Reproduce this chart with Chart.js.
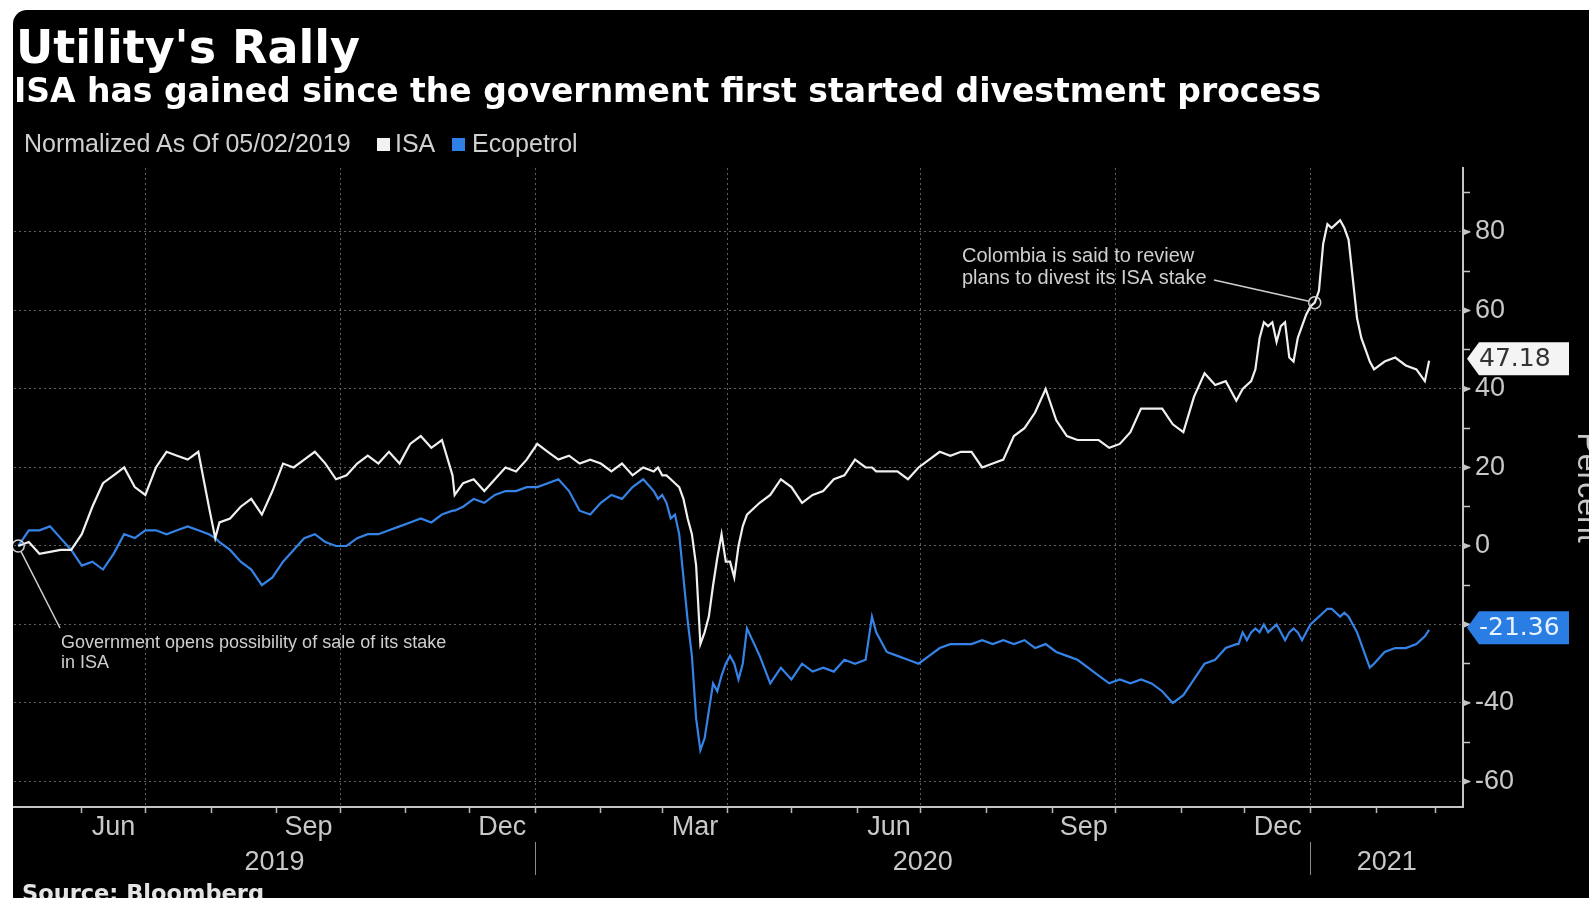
<!DOCTYPE html>
<html>
<head>
<meta charset="utf-8">
<title>Utility's Rally</title>
<script src="https://cdn.jsdelivr.net/npm/chart.js@4.4.1/dist/chart.umd.min.js"></script>
<style>
  html, body { margin:0; padding:0; }
  body { width:1589px; height:898px; overflow:hidden; background:#fff; position:relative; }
  #frame { position:absolute; left:13px; top:10px; width:1576px; height:888px; background:#000; border-top-left-radius:14px; overflow:hidden; }
  #chart { position:absolute; left:0; top:0; }
  .txt { position:absolute; white-space:nowrap; line-height:1.2; margin:0; }
  #title { font:bold 46px 'DejaVu Sans', sans-serif; color:#fff; }
  #subtitle { font:bold 33px 'DejaVu Sans', sans-serif; color:#fff; }
  .leg { font:25px 'Liberation Sans', Arial, sans-serif; color:#d0d0d0; }
  .sw { position:absolute; width:13px; height:13px; }
  #source { font:bold 22.5px 'DejaVu Sans', sans-serif; color:#e4e4e4; }
</style>
</head>
<body>
<div id="frame"><canvas id="chart" width="1576" height="888"></canvas></div>
<div id="title" class="txt">Utility's Rally</div>
<div id="subtitle" class="txt">ISA has gained since the government first started divestment process</div>
<div id="legNote" class="txt leg">Normalized As Of 05/02/2019</div>
<div id="swIsa" class="sw" style="left:377px;top:138px;background:#f2f2f2"></div>
<div id="legIsa" class="txt leg"></div>
<div id="swEco" class="sw" style="left:452px;top:138px;background:#2f80e4"></div>
<div id="legEco" class="txt leg"></div>
<div id="source" class="txt">Source: Bloomberg</div>
<script>
// ---------------- DATA ----------------
const dates = [
'2019-05-02','2019-05-07','2019-05-12','2019-05-17','2019-05-22','2019-05-27',
'2019-06-01','2019-06-06','2019-06-11','2019-06-16','2019-06-21','2019-06-26',
'2019-07-01','2019-07-06','2019-07-11','2019-07-16','2019-07-21','2019-07-26','2019-07-31',
'2019-08-03','2019-08-05','2019-08-10','2019-08-15','2019-08-20','2019-08-25','2019-08-30',
'2019-09-04','2019-09-09','2019-09-14','2019-09-19','2019-09-24','2019-09-29',
'2019-10-04','2019-10-09','2019-10-14','2019-10-19','2019-10-24','2019-10-29',
'2019-11-03','2019-11-08','2019-11-13','2019-11-18','2019-11-23','2019-11-24','2019-11-28',
'2019-12-03','2019-12-08','2019-12-13','2019-12-18','2019-12-23','2019-12-28',
'2020-01-02','2020-01-07','2020-01-12','2020-01-17','2020-01-22','2020-01-27',
'2020-02-01','2020-02-06','2020-02-11','2020-02-16','2020-02-21','2020-02-26','2020-02-28',
'2020-03-01','2020-03-03','2020-03-05','2020-03-07','2020-03-09','2020-03-11','2020-03-13','2020-03-15',
'2020-03-17','2020-03-19','2020-03-21','2020-03-23','2020-03-25','2020-03-27','2020-03-29','2020-03-31',
'2020-04-02','2020-04-04','2020-04-06','2020-04-08','2020-04-10','2020-04-16','2020-04-21','2020-04-26',
'2020-05-01','2020-05-06','2020-05-11','2020-05-16','2020-05-21','2020-05-26','2020-05-31',
'2020-06-05','2020-06-08','2020-06-10','2020-06-15','2020-06-20','2020-06-25','2020-06-30',
'2020-07-05','2020-07-10','2020-07-15','2020-07-20','2020-07-25','2020-07-30',
'2020-08-04','2020-08-09','2020-08-14','2020-08-19','2020-08-24','2020-08-29',
'2020-09-03','2020-09-08','2020-09-13','2020-09-18','2020-09-23','2020-09-28',
'2020-10-03','2020-10-08','2020-10-13','2020-10-18','2020-10-23','2020-10-28',
'2020-11-02','2020-11-07','2020-11-12','2020-11-17','2020-11-22','2020-11-27','2020-11-28','2020-11-30',
'2020-12-02','2020-12-04','2020-12-06','2020-12-08','2020-12-10','2020-12-12','2020-12-14','2020-12-16',
'2020-12-18','2020-12-20','2020-12-22','2020-12-24','2020-12-26','2020-12-28','2020-12-30',
'2021-01-01','2021-01-03','2021-01-05','2021-01-07','2021-01-09','2021-01-11','2021-01-13','2021-01-15',
'2021-01-17','2021-01-19','2021-01-21','2021-01-23','2021-01-25','2021-01-27','2021-01-29','2021-01-31',
'2021-02-05','2021-02-10','2021-02-15','2021-02-20','2021-02-24','2021-02-26'
];
const isaValues = [
0, 1, -2, -1.5, -1, -1,
3, 10, 16, 18, 20, 15,
13, 20, 24, 23, 22, 24, 10,
2, 6, 7, 10, 12, 8, 14,
21, 20, 22, 24, 21, 17,
18, 21, 23, 21, 24, 21,
26, 28, 25, 27, 18, 13, 16,
17, 14, 17, 20, 19, 22,
26, 24, 22, 23, 21, 22,
21, 19, 21, 18, 20, 19, 20,
18, 18, 17, 16, 15, 12, 7, 3,
-5, -25, -22, -18, -10, -3, 3, -4,
-4, -8, 0, 5, 8, 11, 13, 17,
15, 11, 13, 14, 17, 18, 22,
20, 20, 19, 19, 19, 17, 20,
22, 24, 23, 24, 24, 20,
21, 22, 28, 30, 34, 40,
32, 28, 27, 27, 27, 25,
26, 29, 35, 35, 35, 31,
29, 38, 44, 41, 42, 37, 38, 40,
41, 42, 45, 53, 57, 56, 57, 52,
56, 57, 48, 47, 53, 56, 59,
61, 62, 65, 77, 82, 81, 82, 83,
81, 78, 68, 58, 53, 50, 47, 45,
47, 48, 46, 45, 42, 47.18
];
const ecopetrolValues = [
0, 4, 4, 5, 2, -1,
-5, -4, -6, -2, 3, 2,
4, 4, 3, 4, 5, 4, 3,
2, 1, -1, -4, -6, -10, -8,
-4, -1, 2, 3, 1, 0,
0, 2, 3, 3, 4, 5,
6, 7, 6, 8, 9, 9, 10,
12, 11, 13, 14, 14, 15,
15, 16, 17, 14, 9, 8,
11, 13, 12, 15, 17, 14, 12,
13, 11, 7, 8, 3, -8, -19, -28,
-44, -52, -49, -42, -35, -37, -33, -30,
-28, -30, -34, -30, -21, -28, -35, -31,
-34, -30, -32, -31, -32, -29, -30,
-29, -18, -22, -27, -28, -29, -30,
-28, -26, -25, -25, -25, -24,
-25, -24, -25, -24, -26, -25,
-27, -28, -29, -31, -33, -35,
-34, -35, -34, -35, -37, -40,
-38, -34, -30, -29, -26, -25, -25, -22,
-24, -22, -21, -22, -20, -22, -21, -20,
-22, -24, -22, -21, -22, -24, -22,
-20, -19, -18, -17, -16, -16, -17, -18,
-17, -18, -20, -22, -25, -28, -31, -30,
-27, -26, -26, -25, -23, -21.36
];
const seriesNames = ['ISA', 'Ecopetrol'];
const legendNote = 'Normalized As Of 05/02/2019';
const yLabelValues = [-60, -40, -20, 0, 20, 40, 60, 80];
const yAxisTitle = 'Percent';
const monthLabels = ['Jun', 'Sep', 'Dec', 'Mar', 'Jun', 'Sep', 'Dec'];
const monthLabelMonths = ['2019-06', '2019-09', '2019-12', '2020-03', '2020-06', '2020-09', '2020-12'];
const yearLabels = ['2019', '2020', '2021'];
const yearStartDates = ['2020-01-01', '2021-01-01'];
const axisStartDate = '2019-04-30';
const axisEndDate = '2021-03-14';
const annotationDates = ['2021-01-03', '2019-05-02'];
const annotationTexts = [
  ['Colombia is said to review', 'plans to divest its ISA stake'],
  ['Government opens possibility of sale of its stake', 'in ISA']
];

// ---------------- HELPERS ----------------
const DAY = 864e5;
const t0 = Date.parse(dates[0] + 'T00:00:00Z');
const dayOf = s => Math.round((Date.parse(s + 'T00:00:00Z') - t0) / DAY);
const dateOfDay = v => new Date(t0 + v * DAY);
const monthStartDay = (ym, add) => {
  const [yy, mm] = ym.split('-').map(Number);
  return (Date.UTC(yy, mm - 1 + (add || 0), 1) - t0) / DAY;
};
const OX = 13, OY = 10; // frame offset in page
const FONT = "'Liberation Sans', Arial, sans-serif";
const DJ = "'DejaVu Sans', sans-serif";
const isaColor = '#f0f0f0';
const ecoColor = '#3583e6';
const axisColor = '#c4c4c4';

const decor = {
  id: 'decor',
  afterDatasetsDraw(chart) {
    const { ctx, scales: { x, y } } = chart;
    ctx.save();
    ctx.strokeStyle = '#cfcfcf';
    ctx.fillStyle = '#cfcfcf';
    ctx.lineWidth = 1.5;
    const r = 6;
    // annotation 1 (Colombia review)
    const i1 = dates.indexOf(annotationDates[0]);
    const c1x = x.getPixelForValue(dayOf(annotationDates[0]));
    const c1y = y.getPixelForValue(isaValues[i1]);
    ctx.beginPath(); ctx.arc(c1x, c1y, r, 0, Math.PI * 2); ctx.stroke();
    const s1x = 1214 - OX, s1y = 280 - OY;
    const a1 = Math.atan2(c1y - s1y, c1x - s1x);
    ctx.beginPath(); ctx.moveTo(s1x, s1y); ctx.lineTo(c1x - r * Math.cos(a1), c1y - r * Math.sin(a1)); ctx.stroke();
    ctx.font = '20px ' + FONT;
    ctx.textBaseline = 'alphabetic';
    ctx.textAlign = 'left';
    ctx.fillText(annotationTexts[0][0], 962 - OX, 262 - OY);
    ctx.fillText(annotationTexts[0][1], 962 - OX, 284 - OY);
    // annotation 2 (Government opens)
    const i2 = dates.indexOf(annotationDates[1]);
    const c2x = x.getPixelForValue(dayOf(annotationDates[1]));
    const c2y = y.getPixelForValue(isaValues[i2]);
    ctx.beginPath(); ctx.arc(c2x, c2y, r, 0, Math.PI * 2); ctx.stroke();
    const e2x = 60 - OX, e2y = 628 - OY;
    const a2 = Math.atan2(e2y - c2y, e2x - c2x);
    ctx.beginPath(); ctx.moveTo(c2x + r * Math.cos(a2), c2y + r * Math.sin(a2)); ctx.lineTo(e2x, e2y); ctx.stroke();
    ctx.font = '18px ' + FONT;
    ctx.fillText(annotationTexts[1][0], 61 - OX, 648 - OY);
    ctx.fillText(annotationTexts[1][1], 61 - OX, 668 - OY);
    ctx.restore();
  },
  afterDraw(chart) {
    const { ctx, chartArea, scales: { x, y } } = chart;
    ctx.save();
    // arrow-shaped major ticks on the value axis
    ctx.fillStyle = axisColor;
    yLabelValues.forEach(v => {
      const py = y.getPixelForValue(v);
      ctx.beginPath();
      ctx.moveTo(chartArea.right, py - 3.5);
      ctx.lineTo(chartArea.right + 8, py);
      ctx.lineTo(chartArea.right, py + 3.5);
      ctx.closePath();
      ctx.fill();
    });
    // month labels, centred on their month interval
    ctx.fillStyle = '#c8c8c8';
    ctx.font = '27px ' + FONT;
    ctx.textAlign = 'center';
    ctx.textBaseline = 'alphabetic';
    monthLabels.forEach((m, i) => {
      const p0 = x.getPixelForValue(monthStartDay(monthLabelMonths[i], 0));
      const p1 = x.getPixelForValue(monthStartDay(monthLabelMonths[i], 1));
      ctx.fillText(m, (p0 + p1) / 2, 835 - OY);
    });
    // year separators and labels
    const bounds = [chartArea.left, ...yearStartDates.map(d => x.getPixelForValue(dayOf(d))), chartArea.right];
    ctx.strokeStyle = '#8a8a8a';
    ctx.lineWidth = 1;
    yearStartDates.forEach(d => {
      const px = Math.round(x.getPixelForValue(dayOf(d))) + 0.5;
      ctx.beginPath(); ctx.moveTo(px, 842 - OY); ctx.lineTo(px, 875 - OY); ctx.stroke();
    });
    yearLabels.forEach((lab, i) => {
      ctx.fillText(lab, (bounds[i] + bounds[i + 1]) / 2, 870 - OY);
    });
    // y axis title (rotated, partly off the page like the original)
    ctx.save();
    ctx.translate(1578 - OX, (chartArea.top + chartArea.bottom) / 2);
    ctx.rotate(Math.PI / 2);
    ctx.textAlign = 'center';
    ctx.font = '32px ' + FONT;
    ctx.fillText(yAxisTitle, 0, 0);
    ctx.restore();
    // last value tags
    const tag = (val, fill, tcol) => {
      const yc = y.getPixelForValue(val) - 2;
      const xl = chartArea.right + 4, w = 102, h = 33, a = 12;
      ctx.beginPath();
      ctx.moveTo(xl, yc);
      ctx.lineTo(xl + a, yc - h / 2);
      ctx.lineTo(xl + w, yc - h / 2);
      ctx.lineTo(xl + w, yc + h / 2);
      ctx.lineTo(xl + a, yc + h / 2);
      ctx.closePath();
      ctx.fillStyle = fill; ctx.fill();
      ctx.fillStyle = tcol;
      ctx.font = '25px ' + DJ;
      ctx.textAlign = 'left';
      ctx.textBaseline = 'middle';
      ctx.fillText(val.toFixed(2), xl + a, yc + 1);
    };
    tag(isaValues[isaValues.length - 1], '#f4f4f4', '#333333');
    tag(ecopetrolValues[ecopetrolValues.length - 1], '#2a7de2', '#e8f3ff');
    ctx.restore();
  }
};

const isQuarterStart = v => {
  if (v === undefined || v === null) return false;
  const d = dateOfDay(v);
  return d.getUTCDate() === 1 && d.getUTCMonth() % 3 === 0;
};

const chart = new Chart(document.getElementById('chart'), {
  type: 'line',
  data: {
    datasets: [
      { label: seriesNames[0], data: dates.map((d, i) => ({ x: dayOf(d), y: isaValues[i] })),
        borderColor: isaColor, borderWidth: 2.2, pointRadius: 0, tension: 0 },
      { label: seriesNames[1], data: dates.map((d, i) => ({ x: dayOf(d), y: ecopetrolValues[i] })),
        borderColor: ecoColor, borderWidth: 2.2, pointRadius: 0, tension: 0 }
    ]
  },
  options: {
    responsive: false,
    animation: false,
    devicePixelRatio: 1,
    layout: { padding: { top: 158, left: 1, right: 0, bottom: 0 } },
    plugins: { legend: { display: false }, tooltip: { enabled: false } },
    scales: {
      x: {
        type: 'linear',
        min: dayOf(axisStartDate),
        max: dayOf(axisEndDate),
        afterBuildTicks: s => {
          const t = [];
          let yr = 2019, m = 5;
          for (;;) {
            const v = (Date.UTC(yr, m, 1) - t0) / DAY;
            if (v > s.max) break;
            if (v >= s.min) t.push({ value: v });
            m++; if (m > 11) { m = 0; yr++; }
          }
          s.ticks = t;
        },
        afterFit: s => { s.height = 91; },
        grid: {
          color: c => isQuarterStart(c.tick && c.tick.value) ? '#606060' : 'rgba(0,0,0,0)',
          lineWidth: 1,
          tickColor: '#b8b8b8',
          tickLength: 6,
          tickWidth: 1.5
        },
        border: { display: true, color: axisColor, width: 2, dash: [2, 3] },
        ticks: { display: false }
      },
      y: {
        type: 'linear',
        position: 'right',
        min: -66.5,
        max: 96.3,
        afterBuildTicks: s => {
          const t = [];
          for (let v = yLabelValues[0]; v <= 90; v += 10) t.push({ value: v });
          s.ticks = t;
        },
        afterFit: s => { s.width = 126; },
        grid: {
          color: c => (c.tick && yLabelValues.includes(c.tick.value)) ? '#606060' : 'rgba(0,0,0,0)',
          lineWidth: 1,
          tickColor: axisColor,
          tickLength: 7,
          tickWidth: 1.5
        },
        border: { display: true, color: axisColor, width: 2, dash: [2, 3] },
        ticks: {
          color: '#c8c8c8',
          font: { size: 27, family: FONT },
          padding: 5,
          autoSkip: false,
          callback: v => yLabelValues.includes(v) ? String(v) : ''
        }
      }
    }
  },
  plugins: [decor]
});

// ---------------- HTML text placement (baseline based) ----------------
document.getElementById('legIsa').textContent = seriesNames[0];
document.getElementById('legEco').textContent = seriesNames[1];
document.getElementById('legNote').textContent = legendNote;
function place(id, x, baseline) {
  const el = document.getElementById(id);
  let m = el.querySelector('.bm');
  if (!m) {
    m = document.createElement('span');
    m.className = 'bm';
    m.style.cssText = 'display:inline-block;width:0;height:0;vertical-align:baseline;';
    el.appendChild(m);
  }
  el.style.left = x + 'px';
  el.style.top = '0px';
  const off = m.getBoundingClientRect().bottom - el.getBoundingClientRect().top;
  el.style.top = (baseline - off) + 'px';
}
function layoutText() {
  place('title', 16, 63);
  place('subtitle', 14, 102);
  place('legNote', 24, 152);
  place('legIsa', 395, 152);
  place('legEco', 472, 152);
  place('source', 22, 901);
}
layoutText();
if (document.fonts && document.fonts.ready) document.fonts.ready.then(() => { layoutText(); chart.draw(); });
</script>
</body>
</html>
